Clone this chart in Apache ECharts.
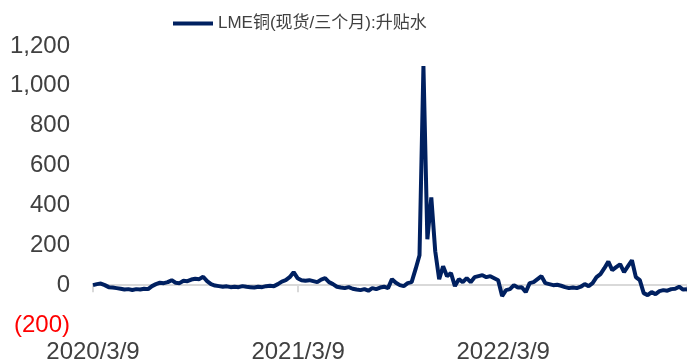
<!DOCTYPE html>
<html>
<head>
<meta charset="utf-8">
<script src="https://cdn.jsdelivr.net/npm/echarts@6/dist/echarts.min.js"></script>
<style>html,body{margin:0;padding:0;background:#fff;}#c{width:687px;height:361px;}</style>
</head>
<body>
<div id="c"></div>
<script>
// Weekly observations starting 2020/3/9 (USD/t, positive = backwardation)
const startDate = '2020-03-09';
const stepDays = 7;
const seriesName = 'LME铜(现货/三个月):升贴水';
const values = [
  0, 5, 8, 0, -10, -12, -15, -18, -22, -20,
  -24, -20, -22, -18, -20, -5, 5, 12, 10, 15,
  25, 12, 10, 22, 20, 28, 32, 30, 42, 20,
  5, -2, -5, -8, -6, -10, -8, -10, -5, -8,
  -10, -12, -8, -10, -5, -3, -5, 5, 18, 25,
  40, 65, 35, 25, 22, 25, 20, 15, 28, 35,
  15, 5, -8, -12, -15, -10, -18, -22, -25, -20,
  -28, -15, -20, -12, -8, -15, 30, 12, 0, -5,
  10, 15, 80, 150, 1100, 230, 440, 170, 30, 95,
  45, 60, -5, 30, 15, 35, 15, 40, 45, 50,
  40, 45, 35, 25, -55, -25, -20, 0, -12, -10,
  -35, 10, 15, 30, 45, 10, 5, 0, 2, -3,
  -10, -15, -12, -15, -8, 5, -5, 10, 40, 55,
  85, 118, 75, 90, 105, 65, 95, 125, 40, 25,
  -40, -50, -35, -45, -30, -25, -28, -20, -18, -8,
  -22, -20
];
const yMin = -200, yMax = 1200, yStep = 200;
const xLabelStepDays = 365;

const DAY = 86400000;
const t0 = Date.parse(startDate + 'T00:00:00Z');
const data = values.map((v, i) => [i * stepDays, v]);
const xMax = (values.length - 1) * stepDays;
function fmtDate(offset) {
  const d = new Date(t0 + offset * DAY);
  return d.getUTCFullYear() + '/' + (d.getUTCMonth() + 1) + '/' + d.getUTCDate();
}
const FONT = 'Liberation Sans, Noto Sans CJK SC, sans-serif';
const chart = echarts.init(document.getElementById('c'), null, {renderer: 'canvas'});
chart.setOption({
  animation: false,
  backgroundColor: '#ffffff',
  grid: {left: 93, right: 0, top: 46, bottom: 36, containLabel: false, outerBoundsMode: 'none'},
  legend: {
    show: true, left: 168, top: 10,
    itemWidth: 40, itemHeight: 14, itemGap: 10,
    textStyle: {fontSize: 17, color: '#404040', fontFamily: FONT},
    data: [{name: seriesName, icon: 'path://M0,5.5 L40,5.5 L40,9.5 L0,9.5 Z'}]
  },
  xAxis: [
    {
      type: 'value', min: 0, max: xMax, interval: xLabelStepDays,
      axisLine: {show: false, onZero: false},
      axisTick: {show: false},
      splitLine: {show: false},
      axisLabel: {
        show: true, margin: 15, fontSize: 24, color: '#404040', fontFamily: FONT,
        showMaxLabel: false, showMinLabel: true,
        formatter: v => fmtDate(v)
      }
    },
    {
      type: 'value', min: 0, max: xMax, interval: xLabelStepDays, position: 'bottom',
      axisLine: {show: true, onZero: true, lineStyle: {color: '#d9d9d9', width: 2}},
      axisTick: {show: true, inside: false, length: 7, lineStyle: {color: '#d9d9d9', width: 2}},
      axisLabel: {show: false},
      splitLine: {show: false}
    }
  ],
  yAxis: {
    type: 'value', min: yMin, max: yMax, interval: yStep,
    axisLine: {show: false}, axisTick: {show: false}, splitLine: {show: false},
    axisLabel: {
      margin: 23, fontSize: 24, color: '#404040', fontFamily: FONT,
      formatter: v => v < 0 ? '{neg|(' + Math.abs(v).toLocaleString('en-US') + ')}' : v.toLocaleString('en-US'),
      rich: {neg: {color: '#ff0000', fontSize: 24, fontFamily: FONT}}
    }
  },
  series: [{
    name: seriesName, type: 'line', xAxisIndex: 0, data: data,
    showSymbol: false, symbol: 'none',
    lineStyle: {color: '#002060', width: 4},
    itemStyle: {color: '#002060'},
    z: 5
  }]
});
</script>
</body>
</html>
